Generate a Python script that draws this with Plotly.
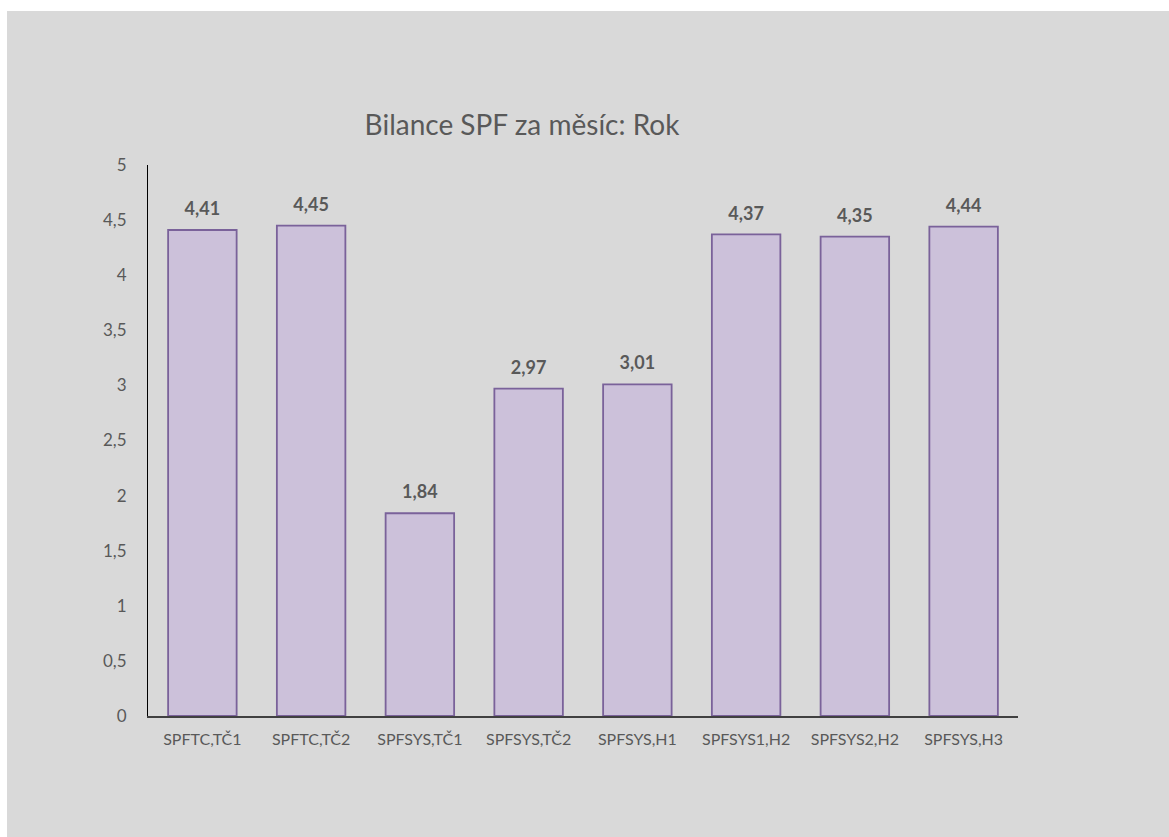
import plotly.graph_objects as go

categories = ["SPFTC,TČ1", "SPFTC,TČ2", "SPFSYS,TČ1", "SPFSYS,TČ2", "SPFSYS,H1",
              "SPFSYS1,H2", "SPFSYS2,H2", "SPFSYS,H3"]
values = [4.41, 4.45, 1.84, 2.97, 3.01, 4.37, 4.35, 4.44]
y_ticks = [0, 0.5, 1, 1.5, 2, 2.5, 3, 3.5, 4, 4.5, 5]
title_text = "Bilance SPF za měsíc: Rok"

FONT = "Lato"
GRAY_TEXT = "#595959"
BG = "#d9d9d9"

fig = go.Figure()
fig.add_trace(go.Bar(
    x=categories, y=values,
    marker=dict(color="#ccc1da", line=dict(color="#7a629a", width=1.8)),
    hoverinfo="x+y",
))
fig.add_trace(go.Scatter(
    x=categories, y=values, mode="markers+text",
    text=[f"{v:.2f}".replace(".", ",") for v in values],
    textposition="top center",
    textfont=dict(family=FONT, size=18, color=GRAY_TEXT, weight="bold"),
    marker=dict(size=15, color="rgba(0,0,0,0)"),
    hoverinfo="skip", showlegend=False,
))

W, H = 1169, 837
L, R, T, B = 148, 151, 165, 121
pw, ph = W - L - R, H - T - B

fig.update_layout(
    width=W, height=H,
    margin=dict(l=L, r=R, t=T, b=B),
    paper_bgcolor="white",
    plot_bgcolor="rgba(0,0,0,0)",
    separators=",.",
    showlegend=False,
    bargap=0.37,
    font=dict(family=FONT, color=GRAY_TEXT, size=16),
    title=dict(text=title_text, x=522 / W, xanchor="center", xref="container",
               y=1 - 125 / H, yanchor="middle",
               font=dict(family=FONT, size=28, color=GRAY_TEXT)),
    shapes=[dict(type="rect", xref="paper", yref="paper", layer="below",
                 x0=(7 - L) / pw, x1=(W - L) / pw + 0.01,
                 y0=-(H - 716) / ph - 0.01, y1=(716 - 11) / ph,
                 fillcolor=BG, line=dict(width=0))],
    xaxis=dict(showline=True, linecolor="#404040", linewidth=1.5, showgrid=False,
               ticks="", ticklabelstandoff=8,
               tickfont=dict(family=FONT, size=16, color=GRAY_TEXT)),
    yaxis=dict(range=[0, 5], tickvals=y_ticks, showline=True, linecolor="black", linewidth=1,
               showgrid=False, zeroline=False, ticks="", ticklabelstandoff=17,
               tickfont=dict(family=FONT, size=17, color=GRAY_TEXT)),
)

fig.write_html("out.html")
